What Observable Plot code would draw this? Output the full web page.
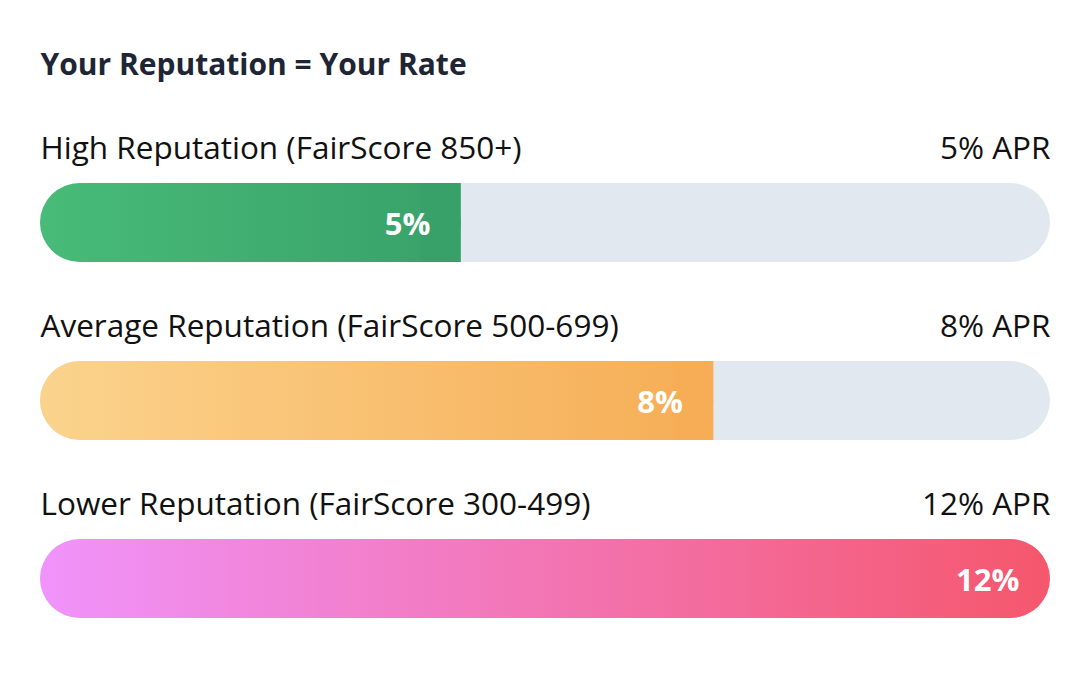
<!DOCTYPE html>
<html>
<head>
<meta charset="utf-8">
<script src="https://cdn.jsdelivr.net/npm/d3@7"></script>
<script src="https://cdn.jsdelivr.net/npm/@observablehq/plot@0.6"></script>
<style>
  html, body { margin: 0; padding: 0; background: #ffffff; }
  #chart svg { display: block; }
</style>
</head>
<body>
<div id="chart"></div>
<script>
const title = "Your Reputation = Your Rate";
const categories = [
  "High Reputation (FairScore 850+)",
  "Average Reputation (FairScore 500-699)",
  "Lower Reputation (FairScore 300-499)"
];
const rates = [5, 8, 12];
const maxRate = 12;
const gradientIds = ["gHigh", "gAvg", "gLow"];
const startColors = ["#48bb78", "#fbd38d", "#f093fb"];
const endColors = ["#38a169", "#f6ad55", "#f5576c"];
const trackColor = "#e2e8f0";

const rows = categories.map((c, i) => ({
  category: c,
  rate: rates[i],
  grad: `url(#${gradientIds[i]})`,
  end: endColors[i]
}));

const xRange = [40, 1050];
const radius = 40;
const capWidth = radius * maxRate / (xRange[1] - xRange[0]);
const capRows = rows.filter(d => d.rate < maxRate);

const font = "'Open Sans', 'Noto Sans', sans-serif";

const svg = Plot.plot({
  width: 1090,
  height: 700,
  margin: 0,
  style: { fontFamily: font, background: "#ffffff", overflow: "visible" },
  x: { domain: [0, maxRate], range: xRange, axis: null },
  y: { domain: categories, range: [182, 618], paddingInner: 0.557, paddingOuter: 0, axis: null },
  color: { type: "identity" },
  marks: [
    Plot.text([title], {
      frameAnchor: "top-left", dx: 40, dy: 65, lineAnchor: "middle",
      fontSize: 30, fontWeight: "bold", fill: "#1e2535"
    }),
    Plot.barX(rows, { y: "category", x1: 0, x2: maxRate, fill: trackColor, rx: radius }),
    Plot.barX(rows, { y: "category", x1: 0, x2: "rate", fill: "grad", rx: radius }),
    Plot.barX(capRows, { y: "category", x1: d => d.rate - capWidth, x2: "rate", fill: "end" }),
    Plot.text(rows, {
      y: "category", x: 0, text: "category", textAnchor: "start",
      dy: -74, fontSize: 31.5, fill: "#111111"
    }),
    Plot.text(rows, {
      y: "category", x: maxRate, text: d => `${d.rate}% APR`, textAnchor: "end",
      dy: -74, fontSize: 31.5, fill: "#111111"
    }),
    Plot.text(rows, {
      y: "category", x: "rate", text: d => `${d.rate}%`, textAnchor: "end",
      dx: -31, dy: 2, fontSize: 31, fontWeight: "bold", fill: "#ffffff"
    })
  ]
});

const defs = d3.select(svg).insert("defs", ":first-child");
gradientIds.forEach((id, i) => {
  const g = defs.append("linearGradient").attr("id", id)
    .attr("x1", "0%").attr("y1", "0%").attr("x2", "100%").attr("y2", "0%");
  g.append("stop").attr("offset", "0%").attr("stop-color", startColors[i]);
  g.append("stop").attr("offset", "100%").attr("stop-color", endColors[i]);
});

document.getElementById("chart").appendChild(svg);
</script>
</body>
</html>
